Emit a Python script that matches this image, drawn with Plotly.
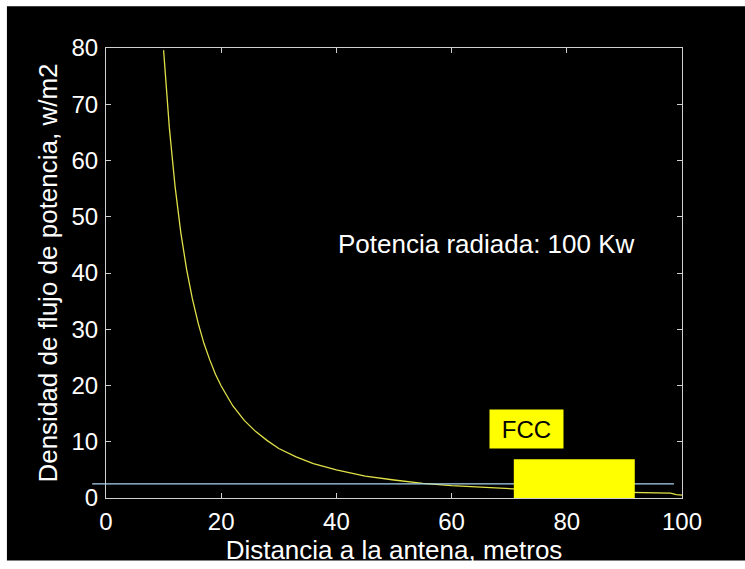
import plotly.graph_objects as go

# Power flux density vs. distance from the antenna (100 kW radiated)
distance_m = [10, 11, 12, 13, 14, 15, 16, 17, 18, 19, 20, 22, 24, 26, 28, 30,
              33, 36, 40, 45, 50, 55, 60, 65, 70, 75, 80, 85, 90, 95, 98, 99, 100]
density_wm2 = [79.6, 65.8, 55.3, 47.1, 40.6, 35.4, 31.1, 27.5, 24.6, 22.0, 19.9,
               16.4, 13.8, 11.8, 10.2, 8.8, 7.3, 6.1, 5.0, 3.9, 3.2, 2.6, 2.2,
               1.9, 1.6, 1.4, 1.2, 1.1, 1.0, 0.9, 0.85, 0.6, 0.5]

x_ticks = [0, 20, 40, 60, 80, 100]
y_ticks = [0, 10, 20, 30, 40, 50, 60, 70, 80]
x_range = [0, 100]
y_range = [0, 80]

# FCC exposure limit line and the highlighted block
fcc_limit = 2.5
fcc_line_x = [-2.4, 98.6]
fcc_block_x = [70.8, 91.8]
fcc_block_top = 6.9
fcc_label = "FCC"
fcc_label_x = 73.0
fcc_label_y = 12.2

power_label = "Potencia radiada: 100 Kw"
power_label_x = 40.0
power_label_y = 45.2

FONT = "Liberation Sans, Arial, sans-serif"
AXIS_COLOR = "#d0d0d0"


def to_paper_x(v):
    return (v - x_range[0]) / (x_range[1] - x_range[0])


def to_paper_y(v):
    return (v - y_range[0]) / (y_range[1] - y_range[0])


fig = go.Figure()
fig.add_trace(go.Scatter(
    x=distance_m, y=density_wm2, mode="lines",
    line=dict(color="#e0e048", width=1.3),
    showlegend=False, hoverinfo="skip",
))

white_edge = dict(type="rect", xref="paper", yref="paper",
                  fillcolor="white", line=dict(width=0), layer="below")
shapes = [
    # thin white slide margins on the left, top and bottom
    dict(white_edge, x0=-0.3, x1=-0.172, y0=-0.3, y1=1.3),
    dict(white_edge, x0=-0.3, x1=1.3, y0=1.093, y1=1.3),
    dict(white_edge, x0=-0.3, x1=1.3, y0=-0.3, y1=-0.139),
    # FCC limit line
    dict(type="line", xref="paper", yref="paper",
         x0=to_paper_x(fcc_line_x[0]), x1=to_paper_x(fcc_line_x[1]),
         y0=to_paper_y(fcc_limit), y1=to_paper_y(fcc_limit),
         line=dict(color="#a8d4f0", width=1.2), layer="above"),
    # FCC block
    dict(type="rect", xref="x", yref="y",
         x0=fcc_block_x[0], x1=fcc_block_x[1], y0=0, y1=fcc_block_top,
         fillcolor="#ffff00", line=dict(width=0), layer="above"),
]

annotations = [
    dict(x=power_label_x, y=power_label_y, xref="x", yref="y",
         text=power_label, showarrow=False, xanchor="left", yanchor="middle",
         font=dict(family=FONT, size=26, color="white")),
    dict(x=fcc_label_x, y=fcc_label_y, xref="x", yref="y",
         text=fcc_label, showarrow=False, xanchor="center", yanchor="middle",
         width=73, height=38, bgcolor="#ffff00", borderpad=0,
         font=dict(family=FONT, size=24, color="black")),
]

axis_common = dict(
    showgrid=False, zeroline=False, showline=True, linecolor=AXIS_COLOR,
    linewidth=1.2, mirror="ticks", ticks="inside", ticklen=5,
    tickcolor=AXIS_COLOR, tickwidth=1,
    tickfont=dict(family=FONT, size=24, color="white"),
)

fig.update_layout(
    width=745, height=569,
    margin=dict(l=106, r=63, t=48, b=68),
    paper_bgcolor="black", plot_bgcolor="black",
    shapes=shapes, annotations=annotations,
    xaxis=dict(range=x_range, tickvals=x_ticks, ticklabelstandoff=2,
               title=dict(text="Distancia a la antena, metros", standoff=4,
                          font=dict(family=FONT, size=26, color="white")),
               **axis_common),
    yaxis=dict(range=y_range, tickvals=y_ticks, ticklabelstandoff=2,
               title=dict(text="Densidad de flujo de potencia, w/m2", standoff=6,
                          font=dict(family=FONT, size=26, color="white")),
               **axis_common),
)

fig.write_html("out.html")
